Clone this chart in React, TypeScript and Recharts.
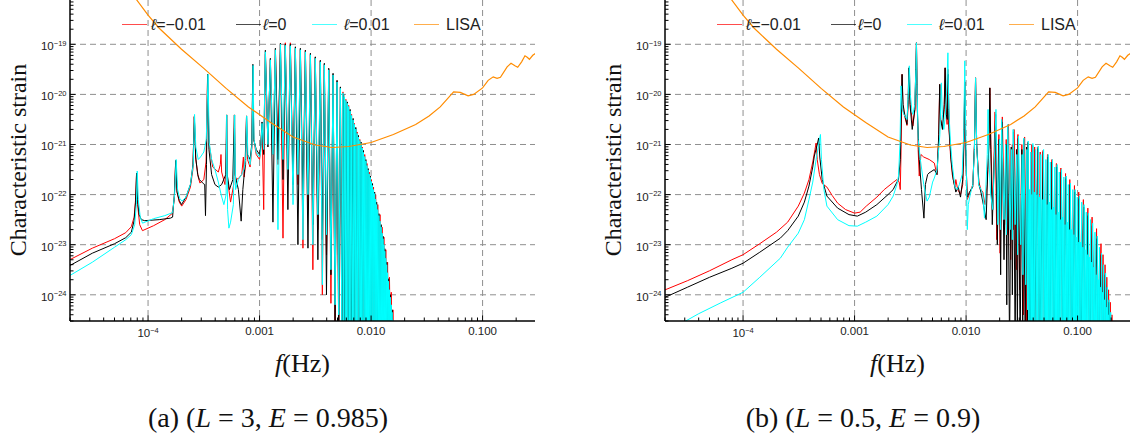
import React from 'react';
import { LineChart, Line, XAxis, YAxis, CartesianGrid } from 'recharts';

type Pt = [number, number];

// every pair is [log10 f (Hz), log10 characteristic strain]

const lisaCurve: Pt[] = [
  [-4.25, -17.65], [-4.1, -18.12], [-4.0, -18.42], [-3.9, -18.68], [-3.7, -19.1], [-3.5, -19.48], [-3.3, -19.88],
  [-3.1, -20.25], [-2.9, -20.56], [-2.7, -20.85], [-2.5, -21.01], [-2.35, -21.06], [-2.2, -21.04],
  [-2.0, -20.96], [-1.8, -20.8], [-1.6, -20.6], [-1.48, -20.43], [-1.38, -20.25], [-1.3, -20.05],
  [-1.26, -19.95], [-1.2, -19.96], [-1.13, -20.03], [-1.08, -20.0], [-1.0, -19.87], [-0.95, -19.72],
  [-0.905, -19.65], [-0.87, -19.68], [-0.84, -19.66], [-0.78, -19.45], [-0.745, -19.38], [-0.71, -19.43],
  [-0.685, -19.46], [-0.65, -19.35], [-0.62, -19.23], [-0.6, -19.26], [-0.58, -19.3], [-0.55, -19.22],
  [-0.52, -19.17],
];

// panel (a)  L = 3, E = 0.985
const redA: Pt[] = [
  [-4.72, -23.32], [-4.5, -23.07], [-4.3, -22.88], [-4.2, -22.76], [-4.15, -22.64], [-4.125, -22.45],
  [-4.112, -22.1], [-4.103, -21.57], [-4.094, -22.2], [-4.075, -22.6], [-4.05, -22.72], [-3.95, -22.62],
  [-3.85, -22.5], [-3.785, -22.38], [-3.765, -22.1], [-3.752, -21.32], [-3.74, -21.95], [-3.72, -22.15],
  [-3.698, -22.23], [-3.66, -22.1], [-3.62, -21.85], [-3.598, -21.5], [-3.585, -20.43], [-3.572, -21.3],
  [-3.55, -21.65], [-3.535, -21.77], [-3.5, -21.7], [-3.48, -21.35], [-3.466, -19.6], [-3.452, -21.0],
  [-3.42, -21.45], [-3.37, -21.55], [-3.352, -21.4], [-3.346, -21.2], [-3.34, -21.55], [-3.31, -21.8],
  [-3.3, -21.5], [-3.294, -20.41], [-3.288, -21.7], [-3.26, -22.15], [-3.232, -21.8], [-3.224, -20.41],
  [-3.217, -21.7], [-3.19, -21.68], [-3.16, -21.6], [-3.145, -21.25], [-3.138, -21.65], [-3.125, -21.4],
  [-3.117, -20.43], [-3.108, -21.3], [-3.085, -21.45], [-3.068, -21.05], [-3.06, -19.42], [-3.052, -20.9],
  [-3.03, -21.2], [-3.0, -21.3], [-2.99, -21.1],
  [-2.978, -20.6], [-2.963, -22.3], [-2.948, -19.2], [-2.925, -21.0], [-2.903, -19.3], [-2.88, -21.2],
  [-2.858, -19.1], [-2.835, -21.4], [-2.813, -18.99], [-2.79, -22.87], [-2.769, -18.97], [-2.746, -21.5],
  [-2.724, -18.97], [-2.7, -22.0], [-2.679, -19.1], [-2.656, -21.8], [-2.634, -19.1], [-2.611, -23.07],
  [-2.589, -19.12], [-2.566, -22.3], [-2.544, -19.2], [-2.522, -23.5], [-2.5, -19.26], [-2.477, -22.7],
  [-2.455, -19.33], [-2.437, -24.0], [-2.419, -19.4], [-2.4, -23.2], [-2.38, -19.49], [-2.36, -24.17],
  [-2.341, -19.6], [-2.323, -24.6], [-2.305, -19.73], [-2.29, -25], [-2.275, -19.86],
  [-2.262, -25], [-2.252, -19.95], [-2.242, -25], [-2.226, -20.1], [-2.216, -25], [-2.201, -20.22],
  [-2.19, -25], [-2.175, -20.4], [-2.165, -25], [-2.149, -20.58], [-2.14, -25], [-2.125, -20.75],
  [-2.115, -25], [-2.101, -20.9], [-2.092, -25], [-2.079, -21.05], [-2.07, -25], [-2.057, -21.2],
  [-2.048, -25], [-2.037, -21.38], [-2.028, -25], [-2.017, -21.55], [-2.008, -25], [-1.997, -21.7],
  [-1.988, -25], [-1.978, -21.85], [-1.969, -25], [-1.959, -22.0], [-1.95, -25], [-1.94, -22.2],
  [-1.931, -25], [-1.92, -22.4], [-1.911, -25], [-1.901, -22.65], [-1.893, -25], [-1.885, -22.85],
  [-1.877, -25], [-1.868, -23.1], [-1.86, -25], [-1.852, -23.35], [-1.844, -25], [-1.835, -23.65],
  [-1.827, -25], [-1.819, -23.95], [-1.812, -25], [-1.804, -24.3], [-1.797, -25], [-1.79, -24.6],
  [-1.78, -25.2],
];

const blackA: Pt[] = [
  [-4.72, -23.44], [-4.5, -23.17], [-4.3, -22.98], [-4.2, -22.86], [-4.15, -22.75], [-4.125, -22.52],
  [-4.112, -22.15], [-4.103, -21.57], [-4.094, -22.1], [-4.08, -22.4], [-4.06, -22.5], [-4.03, -22.52],
  [-3.9, -22.5], [-3.8, -22.47], [-3.78, -22.45], [-3.764, -22.0], [-3.752, -21.32], [-3.74, -21.95],
  [-3.72, -22.12], [-3.7, -22.2], [-3.66, -22.05], [-3.62, -21.8], [-3.597, -21.4], [-3.585, -20.45],
  [-3.573, -21.25], [-3.555, -21.6], [-3.54, -21.7], [-3.505, -21.78], [-3.492, -21.8], [-3.485, -22.42],
  [-3.476, -21.4], [-3.466, -19.6], [-3.454, -21.1], [-3.43, -21.6], [-3.4, -21.8], [-3.37, -21.85],
  [-3.34, -21.8], [-3.303, -21.6], [-3.296, -20.41], [-3.29, -21.6], [-3.27, -21.9], [-3.24, -21.7],
  [-3.226, -20.41], [-3.22, -21.6], [-3.19, -21.9], [-3.165, -22.53], [-3.15, -21.9], [-3.13, -21.4],
  [-3.117, -20.43], [-3.108, -21.2], [-3.085, -21.3], [-3.07, -21.0], [-3.06, -19.4], [-3.052, -20.9],
  [-3.03, -21.1], [-3.0, -21.2], [-2.99, -21.05],
  [-2.978, -20.55], [-2.963, -21.2], [-2.948, -19.12], [-2.925, -21.05], [-2.903, -19.28], [-2.88, -22.55],
  [-2.858, -19.08], [-2.835, -21.3], [-2.813, -18.98], [-2.79, -21.7], [-2.769, -19.0], [-2.746, -22.3],
  [-2.724, -19.0], [-2.7, -21.8], [-2.679, -19.05], [-2.656, -23.0], [-2.634, -19.08], [-2.611, -22.1],
  [-2.589, -19.12], [-2.566, -23.07], [-2.544, -19.18], [-2.522, -22.6], [-2.5, -19.25], [-2.477, -23.3],
  [-2.455, -19.32], [-2.437, -22.9], [-2.419, -19.38], [-2.4, -24.0], [-2.38, -19.48], [-2.36, -23.6],
  [-2.341, -19.58], [-2.323, -24.6], [-2.305, -19.72], [-2.29, -25], [-2.275, -19.85],
  [-2.262, -25], [-2.246, -20.0], [-2.236, -25], [-2.213, -20.15], [-2.204, -25], [-2.188, -20.3],
  [-2.178, -25], [-2.161, -20.48], [-2.152, -25], [-2.137, -20.66], [-2.128, -25], [-2.113, -20.82],
  [-2.104, -25], [-2.09, -20.95], [-2.081, -25], [-2.068, -21.12], [-2.06, -25], [-2.047, -21.3],
  [-2.038, -25], [-2.027, -21.48], [-2.018, -25], [-2.007, -21.63], [-1.998, -25], [-1.987, -21.78],
  [-1.978, -25], [-1.968, -21.95], [-1.96, -25], [-1.95, -22.15], [-1.941, -25], [-1.93, -22.38],
  [-1.921, -25], [-1.91, -22.6], [-1.902, -25], [-1.893, -22.83], [-1.885, -25], [-1.877, -23.08],
  [-1.869, -25], [-1.86, -23.35], [-1.852, -25], [-1.843, -23.68], [-1.835, -25], [-1.827, -24.0],
  [-1.819, -25], [-1.812, -24.3], [-1.804, -25], [-1.797, -24.6], [-1.787, -25.2],
];

const cyanA: Pt[] = [
  [-4.72, -23.64], [-4.5, -23.35], [-4.3, -23.05], [-4.2, -22.9], [-4.15, -22.8], [-4.12, -22.6],
  [-4.105, -22.2], [-4.097, -21.53], [-4.088, -22.1], [-4.07, -22.45], [-4.05, -22.57], [-3.95, -22.48],
  [-3.85, -22.42], [-3.78, -22.36], [-3.762, -22.0], [-3.748, -21.3], [-3.735, -21.9], [-3.715, -22.08],
  [-3.695, -22.13], [-3.66, -22.05], [-3.62, -21.8], [-3.595, -21.4], [-3.583, -20.4], [-3.572, -21.05],
  [-3.55, -21.3], [-3.53, -21.25], [-3.5, -21.15], [-3.478, -20.9], [-3.462, -19.6], [-3.452, -20.95],
  [-3.43, -21.3], [-3.4, -21.5], [-3.37, -21.75], [-3.345, -22.0], [-3.32, -22.2], [-3.3, -22.0],
  [-3.294, -20.41], [-3.287, -22.3], [-3.275, -22.67], [-3.26, -22.55], [-3.235, -22.2], [-3.223, -20.41],
  [-3.215, -21.9], [-3.19, -21.7], [-3.16, -21.6], [-3.14, -21.5], [-3.125, -21.3], [-3.115, -20.43],
  [-3.105, -21.2], [-3.085, -21.4], [-3.068, -21.0], [-3.058, -19.42], [-3.05, -20.9], [-3.03, -21.15],
  [-3.0, -21.25], [-2.99, -21.15],
  [-2.978, -20.58], [-2.963, -21.1], [-2.948, -19.15], [-2.925, -21.0], [-2.903, -19.31], [-2.88, -21.2],
  [-2.858, -19.11], [-2.835, -22.7], [-2.813, -19.0], [-2.79, -21.3], [-2.769, -19.02], [-2.746, -21.5],
  [-2.724, -19.03], [-2.7, -22.2], [-2.679, -19.08], [-2.656, -21.6], [-2.634, -19.11], [-2.611, -22.9],
  [-2.589, -19.15], [-2.566, -22.0], [-2.544, -19.21], [-2.522, -23.0], [-2.5, -19.28], [-2.477, -22.4],
  [-2.455, -19.35], [-2.437, -23.8], [-2.419, -19.41], [-2.4, -22.8], [-2.38, -19.51], [-2.36, -23.5],
  [-2.341, -19.61], [-2.323, -24.2], [-2.305, -19.75], [-2.29, -24.4], [-2.275, -19.88],
  [-2.262, -25], [-2.252, -19.97], [-2.246, -25], [-2.239, -20.05], [-2.232, -25], [-2.226, -20.12],
  [-2.219, -25], [-2.213, -20.18], [-2.207, -25], [-2.201, -20.24], [-2.194, -25], [-2.188, -20.33],
  [-2.181, -25], [-2.175, -20.42], [-2.168, -25], [-2.161, -20.51], [-2.155, -25], [-2.149, -20.6],
  [-2.143, -25], [-2.137, -20.69], [-2.131, -25], [-2.125, -20.78], [-2.119, -25], [-2.113, -20.85],
  [-2.107, -25], [-2.101, -20.92], [-2.095, -25], [-2.09, -20.98], [-2.084, -25], [-2.079, -21.07],
  [-2.073, -25], [-2.068, -21.16], [-2.062, -25], [-2.057, -21.24], [-2.052, -25], [-2.047, -21.33],
  [-2.042, -25], [-2.037, -21.42], [-2.032, -25], [-2.027, -21.51], [-2.022, -25], [-2.017, -21.59],
  [-2.012, -25], [-2.007, -21.66], [-2.002, -25], [-1.997, -21.74], [-1.992, -25], [-1.987, -21.82],
  [-1.982, -25], [-1.978, -21.9], [-1.973, -25], [-1.968, -21.98], [-1.963, -25], [-1.959, -22.09],
  [-1.954, -25], [-1.95, -22.2], [-1.945, -25], [-1.94, -22.3], [-1.935, -25], [-1.93, -22.42],
  [-1.925, -25], [-1.92, -22.53], [-1.915, -25], [-1.91, -22.65], [-1.905, -25], [-1.901, -22.77],
  [-1.897, -25], [-1.893, -22.88], [-1.889, -25], [-1.885, -23.0], [-1.881, -25], [-1.877, -23.13],
  [-1.872, -25], [-1.868, -23.27], [-1.864, -25], [-1.86, -23.4], [-1.856, -25], [-1.852, -23.56],
  [-1.847, -25], [-1.843, -23.73], [-1.839, -25], [-1.835, -23.9], [-1.831, -25], [-1.827, -24.05],
  [-1.823, -25], [-1.819, -24.2], [-1.815, -25], [-1.812, -24.35], [-1.808, -25], [-1.805, -24.5],
  [-1.8, -25.2],
];

// panel (b)  L = 0.5, E = 0.9
const redB: Pt[] = [
  [-4.72, -23.92], [-4.5, -23.72], [-4.3, -23.52], [-4.1, -23.3], [-4.0, -23.2], [-3.85, -22.98],
  [-3.7, -22.75], [-3.6, -22.55], [-3.505, -22.23], [-3.45, -21.97], [-3.409, -21.7], [-3.375, -21.35],
  [-3.355, -21.1], [-3.345, -20.97], [-3.335, -21.3], [-3.315, -21.6], [-3.29, -21.78], [-3.248, -21.85],
  [-3.2, -22.02], [-3.152, -22.17], [-3.08, -22.3], [-3.0, -22.37], [-2.95, -22.35], [-2.895, -22.23],
  [-2.8, -22.05], [-2.734, -21.9], [-2.65, -21.75],
  [-2.62, -21.7], [-2.6, -21.75], [-2.59, -21.9], [-2.582, -21.0], [-2.574, -19.6], [-2.566, -20.3],
  [-2.555, -20.4], [-2.53, -20.62], [-2.516, -20.1], [-2.509, -19.47], [-2.5, -20.2], [-2.477, -20.63],
  [-2.458, -20.3], [-2.445, -18.97], [-2.437, -20.3], [-2.43, -21.1], [-2.42, -21.63], [-2.405, -21.2],
  [-2.38, -21.25], [-2.33, -21.3], [-2.285, -21.37], [-2.262, -21.6], [-2.248, -21.0], [-2.236, -19.8],
  [-2.228, -20.5], [-2.212, -20.63], [-2.196, -20.3], [-2.188, -19.47], [-2.18, -20.3], [-2.17, -20.6],
  [-2.163, -19.5], [-2.156, -20.6], [-2.14, -21.2], [-2.124, -21.6], [-2.1, -21.85], [-2.092, -21.7],
  [-2.075, -21.9], [-2.05, -22.0], [-2.03, -21.8], [-2.018, -21.0], [-2.012, -19.75], [-2.005, -21.0],
  [-1.99, -22.1], [-1.963, -21.95], [-1.94, -21.8], [-1.925, -21.05], [-1.915, -19.67], [-1.905, -21.0],
  [-1.885, -21.75], [-1.867, -21.9], [-1.85, -21.95], [-1.83, -22.2], [-1.812, -21.8], [-1.795, -21.0],
  [-1.787, -19.87],
  [-1.778, -21.0], [-1.76, -22.3], [-1.74, -20.35], [-1.725, -22.9], [-1.706, -20.8], [-1.695, -23.17],
  [-1.675, -20.45], [-1.655, -22.6], [-1.64, -20.9], [-1.63, -22.8], [-1.62, -20.6], [-1.6, -23.3],
  [-1.585, -21.0], [-1.575, -22.7], [-1.57, -20.7], [-1.55, -23.5], [-1.535, -20.8], [-1.52, -23.9],
  [-1.5, -21.0], [-1.485, -24.4], [-1.475, -20.85], [-1.46, -25], [-1.448, -20.95], [-1.435, -25],
  [-1.41, -21.0], [-1.398, -25], [-1.385, -21.05], [-1.372, -25], [-1.36, -21.05], [-1.348, -25],
  [-1.335, -21.15], [-1.322, -25], [-1.31, -21.12], [-1.3, -25], [-1.27, -21.2], [-1.258, -25],
  [-1.23, -21.3], [-1.218, -25], [-1.19, -21.38], [-1.178, -25], [-1.15, -21.47], [-1.138, -25],
  [-1.108, -21.58], [-1.098, -25], [-1.07, -21.7], [-1.06, -25], [-1.028, -21.82], [-1.018, -25],
  [-0.99, -21.95], [-0.98, -25], [-0.948, -22.1], [-0.938, -25], [-0.908, -22.27], [-0.898, -25],
  [-0.87, -22.45], [-0.86, -25], [-0.83, -22.68], [-0.82, -25], [-0.79, -22.98], [-0.78, -25],
  [-0.772, -23.2], [-0.762, -25], [-0.754, -23.4], [-0.745, -25], [-0.738, -23.65], [-0.73, -25],
  [-0.722, -23.9], [-0.714, -25], [-0.707, -24.15], [-0.7, -25], [-0.692, -24.4], [-0.685, -25],
  [-0.678, -24.6], [-0.67, -25.2],
];

const blackB: Pt[] = [
  [-4.72, -24.07], [-4.5, -23.85], [-4.3, -23.65], [-4.1, -23.47], [-4.0, -23.37], [-3.85, -23.15],
  [-3.666, -22.87], [-3.6, -22.72], [-3.505, -22.43], [-3.45, -22.15], [-3.409, -21.83], [-3.375, -21.45],
  [-3.361, -21.23], [-3.335, -21.0], [-3.322, -20.87], [-3.312, -21.25], [-3.29, -21.7], [-3.248, -22.03],
  [-3.152, -22.27], [-3.05, -22.4], [-2.975, -22.43], [-2.9, -22.35], [-2.8, -22.2], [-2.7, -22.0],
  [-2.654, -21.9],
  [-2.62, -21.75], [-2.606, -21.7], [-2.59, -21.3], [-2.574, -19.6], [-2.565, -20.2], [-2.55, -20.4],
  [-2.53, -20.6], [-2.52, -20.1], [-2.513, -19.47], [-2.503, -20.2], [-2.483, -20.7], [-2.46, -20.3],
  [-2.445, -18.97], [-2.437, -20.3], [-2.42, -21.3], [-2.4, -21.9], [-2.378, -22.47], [-2.365, -21.8],
  [-2.345, -21.6], [-2.333, -21.57], [-2.285, -21.5], [-2.26, -21.6], [-2.245, -20.8], [-2.236, -19.8],
  [-2.228, -20.5], [-2.212, -20.7], [-2.196, -20.2], [-2.188, -19.47], [-2.178, -20.4], [-2.168, -20.5],
  [-2.16, -19.6], [-2.152, -20.7], [-2.135, -21.3], [-2.115, -21.7], [-2.092, -21.95], [-2.07, -21.85],
  [-2.05, -22.05], [-2.03, -21.7], [-2.02, -20.9], [-2.012, -19.75], [-2.005, -21.0], [-1.99, -22.05],
  [-1.97, -21.95], [-1.94, -21.85], [-1.925, -21.0], [-1.915, -19.67], [-1.905, -21.0], [-1.885, -21.8],
  [-1.867, -21.95], [-1.845, -22.2], [-1.82, -22.5], [-1.805, -21.5], [-1.795, -21.0], [-1.787, -19.87],
  [-1.778, -21.1], [-1.765, -22.6], [-1.735, -20.4], [-1.72, -23.0], [-1.703, -20.9], [-1.69, -23.6],
  [-1.678, -20.55], [-1.66, -23.3], [-1.643, -21.0], [-1.635, -24.2], [-1.628, -20.65], [-1.61, -25],
  [-1.595, -21.05], [-1.585, -24.0], [-1.575, -20.75], [-1.56, -25], [-1.548, -21.1], [-1.54, -25],
  [-1.532, -20.88], [-1.515, -25], [-1.5, -21.1], [-1.492, -25], [-1.484, -20.9], [-1.47, -25],
  [-1.458, -21.05], [-1.45, -25], [-1.444, -20.97], [-1.425, -25], [-1.403, -21.02], [-1.388, -25],
  [-1.355, -21.08], [-1.34, -25], [-1.307, -21.15], [-1.29, -25], [-1.265, -21.25], [-1.25, -25],
  [-1.227, -21.35], [-1.21, -25], [-1.185, -21.45], [-1.17, -25], [-1.146, -21.55], [-1.13, -25],
  [-1.104, -21.68], [-1.09, -25], [-1.066, -21.8], [-1.05, -25], [-1.024, -21.95], [-1.01, -25],
  [-0.986, -22.08], [-0.97, -25], [-0.944, -22.25], [-0.93, -25], [-0.905, -22.42], [-0.89, -25],
  [-0.867, -22.62], [-0.85, -25], [-0.825, -22.88], [-0.81, -25], [-0.787, -23.2], [-0.77, -25],
  [-0.751, -23.6], [-0.735, -25], [-0.719, -24.15], [-0.705, -25.1],
];

const cyanB: Pt[] = [
  [-4.56, -24.58], [-4.4, -24.38], [-4.2, -24.16], [-4.0, -23.95], [-3.85, -23.65], [-3.666, -23.27],
  [-3.6, -23.05], [-3.505, -22.77], [-3.45, -22.5], [-3.409, -22.1], [-3.375, -21.75], [-3.345, -21.3],
  [-3.318, -20.95], [-3.306, -20.8], [-3.297, -21.3], [-3.275, -21.9], [-3.248, -22.23], [-3.152, -22.5],
  [-3.05, -22.62], [-2.975, -22.63], [-2.9, -22.55], [-2.8, -22.43], [-2.7, -22.2], [-2.654, -22.03],
  [-2.62, -21.8], [-2.606, -21.63], [-2.593, -21.0], [-2.583, -19.83], [-2.572, -20.3], [-2.558, -20.4],
  [-2.53, -20.5], [-2.518, -20.0], [-2.509, -19.43], [-2.5, -20.0], [-2.485, -20.35], [-2.477, -20.4],
  [-2.46, -20.2], [-2.45, -19.5], [-2.445, -18.97], [-2.44, -19.8], [-2.43, -20.9], [-2.41, -21.3],
  [-2.38, -21.8], [-2.35, -22.13], [-2.33, -22.05], [-2.3, -21.75], [-2.285, -21.67], [-2.26, -21.5],
  [-2.235, -20.8], [-2.222, -19.77], [-2.213, -20.4], [-2.2, -20.7], [-2.19, -20.5], [-2.175, -20.0],
  [-2.163, -19.17], [-2.155, -20.3], [-2.14, -20.95], [-2.124, -21.4], [-2.1, -21.85], [-2.08, -21.9],
  [-2.06, -21.8], [-2.035, -21.6], [-2.02, -20.7], [-2.012, -19.33], [-2.004, -20.6], [-1.995, -21.9],
  [-1.989, -22.7], [-1.98, -22.2], [-1.963, -22.0], [-1.94, -21.8], [-1.925, -21.1], [-1.915, -19.67],
  [-1.905, -21.0], [-1.887, -21.8], [-1.867, -21.9], [-1.85, -22.0], [-1.835, -22.47], [-1.825, -22.0],
  [-1.81, -21.2], [-1.803, -20.3], [-1.795, -21.3], [-1.78, -22.0],
  [-1.76, -22.3], [-1.732, -20.3], [-1.715, -22.6], [-1.7, -20.9], [-1.692, -22.7], [-1.681, -20.5],
  [-1.66, -22.5], [-1.645, -21.0], [-1.638, -22.8], [-1.626, -20.6], [-1.605, -22.7], [-1.592, -21.1],
  [-1.585, -22.9], [-1.578, -20.7], [-1.56, -22.6], [-1.545, -21.2], [-1.538, -23.2], [-1.53, -20.83],
  [-1.51, -23.0], [-1.497, -21.2], [-1.49, -23.6], [-1.482, -20.87], [-1.465, -23.8], [-1.455, -21.1],
  [-1.449, -24.3],
  [-1.443, -20.93], [-1.437, -25], [-1.431, -21.9], [-1.426, -25], [-1.42, -21.15], [-1.415, -25],
  [-1.41, -22.0], [-1.406, -25], [-1.401, -20.98], [-1.395, -25], [-1.389, -21.95], [-1.383, -25],
  [-1.377, -21.1], [-1.371, -25], [-1.365, -22.0], [-1.359, -25], [-1.353, -21.03], [-1.347, -25],
  [-1.341, -22.05], [-1.336, -25], [-1.33, -21.2], [-1.324, -25], [-1.318, -22.1], [-1.311, -25],
  [-1.305, -21.1], [-1.3, -25], [-1.294, -22.1], [-1.289, -25], [-1.284, -21.3], [-1.279, -25],
  [-1.274, -22.2], [-1.268, -25], [-1.263, -21.2], [-1.258, -25], [-1.253, -22.15], [-1.249, -25],
  [-1.244, -21.35], [-1.239, -25], [-1.235, -22.3], [-1.23, -25], [-1.225, -21.3], [-1.22, -25],
  [-1.215, -22.25], [-1.21, -25], [-1.204, -21.45], [-1.199, -25], [-1.194, -22.4], [-1.188, -25],
  [-1.183, -21.4], [-1.178, -25], [-1.174, -22.35], [-1.169, -25], [-1.164, -21.55], [-1.159, -25],
  [-1.155, -22.5], [-1.15, -25], [-1.144, -21.5], [-1.139, -25], [-1.134, -22.45], [-1.128, -25],
  [-1.123, -21.65], [-1.118, -25], [-1.113, -22.6], [-1.107, -25], [-1.102, -21.63], [-1.097, -25],
  [-1.093, -22.55], [-1.088, -25], [-1.083, -21.8], [-1.078, -25], [-1.074, -22.7], [-1.069, -25],
  [-1.064, -21.77], [-1.059, -25], [-1.055, -22.7], [-1.049, -25], [-1.043, -21.9], [-1.038, -25],
  [-1.033, -22.8], [-1.027, -25], [-1.022, -21.9], [-1.017, -25], [-1.013, -22.85], [-1.008, -25],
  [-1.003, -22.05], [-0.998, -25], [-0.994, -22.95], [-0.989, -25], [-0.984, -22.03], [-0.979, -25],
  [-0.975, -22.95], [-0.969, -25], [-0.963, -22.15], [-0.958, -25], [-0.953, -23.05], [-0.947, -25],
  [-0.942, -22.2], [-0.937, -25], [-0.933, -23.1], [-0.927, -25], [-0.922, -22.35], [-0.917, -25],
  [-0.913, -23.2], [-0.908, -25], [-0.903, -22.37], [-0.898, -25], [-0.894, -23.25], [-0.889, -25],
  [-0.884, -22.5], [-0.879, -25], [-0.875, -23.35], [-0.87, -25], [-0.865, -22.57], [-0.86, -25],
  [-0.856, -23.45], [-0.85, -25], [-0.844, -22.75], [-0.839, -25], [-0.834, -23.6], [-0.828, -25],
  [-0.823, -22.83], [-0.818, -25], [-0.814, -23.7], [-0.809, -25], [-0.804, -23.05], [-0.8, -25],
  [-0.795, -23.85], [-0.79, -25], [-0.785, -23.17], [-0.781, -25], [-0.776, -23.95], [-0.772, -25],
  [-0.767, -23.4], [-0.763, -25], [-0.758, -24.1], [-0.754, -25], [-0.749, -23.57], [-0.745, -25],
  [-0.74, -24.25], [-0.737, -25], [-0.733, -23.85], [-0.729, -25], [-0.725, -24.4], [-0.721, -25],
  [-0.717, -24.1], [-0.713, -25], [-0.71, -24.55], [-0.706, -25], [-0.703, -24.35], [-0.699, -25],
  [-0.696, -24.7], [-0.693, -25], [-0.69, -24.6], [-0.68, -25.2],
];

const xMajors = [1e-4, 1e-3, 1e-2, 1e-1];
const xMajorLabels = ['10^\u22124', '0.001', '0.010', '0.100'];
const yMajors = [1e-24, 1e-23, 1e-22, 1e-21, 1e-20, 1e-19];
const yMajorLabels = ['10^\u221224', '10^\u221223', '10^\u221222', '10^\u221221', '10^\u221220', '10^\u221219'];

const seriesNames = ['\u2113=\u22120.01', '\u2113=0', '\u2113=0.01', 'LISA'];
const seriesColors = ['#ff0000', '#000000', '#00ffff', '#ff8c00'];

const xDomain: [number, number] = [10 ** -4.7, 10 ** -0.53];
const yDomain: [number, number] = [10 ** -24.523, 10 ** -18.116];

const SANS = '"Liberation Sans", Arial, sans-serif';
const SERIF = '"Liberation Serif", "Times New Roman", serif';

const toRows = (pts: Pt[]) => pts.map(([lf, lh]) => ({ f: 10 ** lf, h: 10 ** lh }));

const logTicks = (lo: number, hi: number) => {
  const out: number[] = [];
  for (let d = Math.floor(Math.log10(lo)); d <= Math.ceil(Math.log10(hi)); d++) {
    for (let m = 1; m <= 9; m++) {
      const v = m * 10 ** d;
      if (v >= lo && v <= hi) out.push(v);
    }
  }
  return out;
};
const xTicks = logTicks(xDomain[0], xDomain[1]);
const yTicks = logTicks(yDomain[0], yDomain[1]);

const isDecade = (v: number) => Math.abs(Math.log10(v) - Math.round(Math.log10(v))) < 1e-6;
const findLabel = (majors: number[], labels: string[], v: number) => {
  const i = majors.findIndex((m) => Math.abs(m / v - 1) < 1e-6);
  return i >= 0 ? labels[i] : null;
};

const TickLabel = ({ x, y, label, anchor }: { x: number; y: number; label: string; anchor: 'middle' | 'end' }) => {
  const [base, exp] = label.split('^');
  return (
    <text x={x} y={y} textAnchor={anchor} fontFamily={SANS} fontSize={11.5} fill="#222">
      <tspan>{base}</tspan>
      {exp && (
        <tspan dy={-4.5} fontSize={7.5}>
          {exp}
        </tspan>
      )}
    </text>
  );
};

const BottomTick = (p: any) => {
  const label = findLabel(xMajors, xMajorLabels, p.payload.value);
  const len = isDecade(p.payload.value) ? 5.5 : 3.5;
  return (
    <g>
      <line x1={p.x} x2={p.x} y1={p.y} y2={p.y - len} stroke="#000" />
      {label && <TickLabel x={p.x} y={p.y + (label.includes('^') ? 16 : 14)} label={label} anchor="middle" />}
    </g>
  );
};
const TopTick = (p: any) => {
  const len = isDecade(p.payload.value) ? 5.5 : 3.5;
  return <line x1={p.x} x2={p.x} y1={p.y} y2={p.y + len} stroke="#000" />;
};
const LeftTick = (p: any) => {
  const label = findLabel(yMajors, yMajorLabels, p.payload.value);
  const len = isDecade(p.payload.value) ? 5.5 : 3.5;
  return (
    <g>
      <line x1={p.x} x2={p.x + len} y1={p.y} y2={p.y} stroke="#000" />
      {label && <TickLabel x={p.x - 3.5} y={p.y + 6} label={label} anchor="end" />}
    </g>
  );
};
const RightTick = (p: any) => {
  const len = isDecade(p.payload.value) ? 5.5 : 3.5;
  return <line x1={p.x} x2={p.x - len} y1={p.y} y2={p.y} stroke="#000" />;
};

const frame = { stroke: '#000', strokeWidth: 1.5 };

const legendLineX = [122, 236, 312, 414];
const legendTextX = [151, 263, 344, 446];

function Panel({ left, series, caption }: { left: number; series: Pt[][]; caption: React.ReactNode }) {
  const rows = series.map(toRows);
  return (
    <div style={{ position: 'absolute', left, top: 0, width: 545, height: 441 }}>
      <LineChart width={545} height={441} margin={{ top: 0, right: 10, bottom: 0, left: 0 }}>
        <CartesianGrid
          xAxisId="b"
          yAxisId="l"
          stroke="#8f8f8f"
          strokeDasharray="6 4"
          verticalValues={xMajors}
          horizontalValues={yMajors}
        />
        <XAxis xAxisId="b" dataKey="f" type="number" scale="log" domain={xDomain} allowDataOverflow
          ticks={xTicks} interval={0} height={120} tickSize={0} tickMargin={0} tickLine={false}
          axisLine={frame} tick={BottomTick} />
        <XAxis xAxisId="t" orientation="top" dataKey="f" type="number" scale="log" domain={xDomain}
          allowDataOverflow ticks={xTicks} interval={0} height={0} tickSize={0} tickMargin={0}
          tickLine={false} axisLine={frame} tick={TopTick} />
        <YAxis yAxisId="l" type="number" scale="log" domain={yDomain} allowDataOverflow ticks={yTicks}
          interval={0} width={70} tickSize={0} tickMargin={0} tickLine={false} axisLine={frame} tick={LeftTick} />
        <YAxis yAxisId="r" orientation="right" type="number" scale="log" domain={yDomain} allowDataOverflow
          ticks={yTicks} interval={0} width={0} tickSize={0} tickMargin={0} tickLine={false} axisLine={frame}
          tick={RightTick} />
        {rows.map((data, i) => (
          <Line
            key={seriesNames[i]}
            xAxisId="b"
            yAxisId="l"
            data={data}
            dataKey="h"
            type="linear"
            stroke={seriesColors[i]}
            strokeWidth={i === 3 ? 1.2 : 1}
            dot={false}
            isAnimationActive={false}
          />
        ))}
      </LineChart>

      {seriesNames.map((name, i) => (
        <React.Fragment key={name}>
          <div style={{ position: 'absolute', left: legendLineX[i], top: 24, width: 25, borderTop: `1.5px solid ${seriesColors[i]}`, opacity: 0.7 }} />
          <div style={{ position: 'absolute', left: legendTextX[i], top: 15, fontFamily: SANS, fontSize: 16, lineHeight: '20px', color: '#222', whiteSpace: 'nowrap' }}>
            {name.startsWith('\u2113') ? (<><span style={{ fontStyle: 'italic' }}>{'\u2113'}</span>{name.slice(1)}</>) : name}
          </div>
        </React.Fragment>
      ))}

      <div style={{ position: 'absolute', left: 18 - 150, top: 160 - 15, width: 300, height: 30, lineHeight: '30px', textAlign: 'center', transform: 'rotate(-90deg)', fontFamily: SERIF, fontSize: 24, color: '#111' }}>
        Characteristic strain
      </div>
      <div style={{ position: 'absolute', left: 70, width: 465, top: 349, lineHeight: '30px', textAlign: 'center', fontFamily: SERIF, fontSize: 26, color: '#111' }}>
        <i>f</i>(Hz)
      </div>
      <div style={{ position: 'absolute', left: 268 - 200, width: 400, top: 403, lineHeight: '30px', textAlign: 'center', fontFamily: SERIF, fontSize: 28, color: '#111', whiteSpace: 'nowrap' }}>
        {caption}
      </div>
    </div>
  );
}

export default function App() {
  return (
    <div style={{ position: 'relative', width: 1141, height: 441, background: '#fff', overflow: 'hidden' }}>
      <style>{'body{margin:0}'}</style>
      <Panel
        left={0}
        series={[redA, blackA, cyanA, lisaCurve]}
        caption={<>(a) (<i>L</i> = 3, <i>E</i> = 0.985)</>}
      />
      <Panel
        left={595}
        series={[redB, blackB, cyanB, lisaCurve]}
        caption={<>(b) (<i>L</i> = 0.5, <i>E</i> = 0.9)</>}
      />
    </div>
  );
}
